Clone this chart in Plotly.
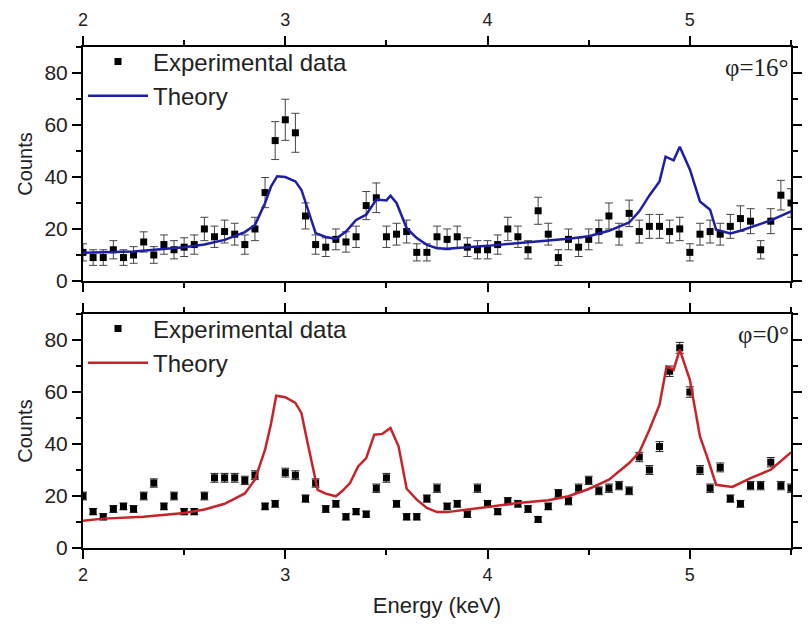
import plotly.graph_objects as go

energy = [2.00, 2.05, 2.10, 2.15, 2.20, 2.25, 2.30, 2.35, 2.40, 2.45, 2.50, 2.55, 2.60, 2.65, 2.70, 2.75,
          2.80, 2.85, 2.90, 2.95, 3.00, 3.05, 3.10, 3.15, 3.20, 3.25, 3.30, 3.35, 3.40, 3.45, 3.50, 3.55,
          3.60, 3.65, 3.70, 3.75, 3.80, 3.85, 3.90, 3.95, 4.00, 4.05, 4.10, 4.15, 4.20, 4.25, 4.30, 4.35,
          4.40, 4.45, 4.50, 4.55, 4.60, 4.65, 4.70, 4.75, 4.80, 4.85, 4.90, 4.95, 5.00, 5.05, 5.10, 5.15,
          5.20, 5.25, 5.30, 5.35, 5.40, 5.45, 5.50]

# phi = 16 deg panel
counts_16 = [11, 9, 9, 12, 9, 10, 15, 10, 14, 12, 13, 14, 20, 17, 19, 18, 14, 20, 34, 54, 62, 57,
             25, 14, 13, 16, 15, 17, 29, 32, 17, 18, 19, 11, 11, 17, 16, 17, 13, 12, 12, 14, 20, 17, 12, 27,
             18, 9, 16, 13, 16, 19, 25, 18, 26, 19, 21, 21, 19, 20, 11, 18, 19, 18, 21, 24, 23, 12, 23, 33, 30]
err_16 = [3.3, 3.0, 3.0, 3.5, 3.0, 3.2, 3.9, 3.2, 3.7, 3.5, 3.6, 3.7, 4.5, 4.1, 4.4, 4.2, 3.7, 4.5, 5.8, 7.3, 7.9, 7.5,
          5.0, 3.7, 3.6, 4.0, 3.9, 4.1, 5.4, 5.7, 4.1, 4.2, 4.4, 3.3, 3.3, 4.1, 4.0, 4.1, 3.6, 3.5, 3.5, 3.7, 4.5, 4.1, 3.5, 5.2,
          4.2, 3.0, 4.0, 3.6, 4.0, 4.4, 5.0, 4.2, 5.1, 4.4, 4.6, 4.6, 4.4, 4.5, 3.3, 4.2, 4.4, 4.2, 4.6, 4.9, 4.8, 3.5, 4.8, 5.7, 5.5]

theory_16_x = [2.00, 2.25, 2.50, 2.60, 2.70, 2.80, 2.85, 2.90, 2.93, 2.96, 3.00, 3.05, 3.08, 3.10, 3.15, 3.20,
               3.25, 3.30, 3.35, 3.40, 3.45, 3.50, 3.52, 3.55, 3.60, 3.65, 3.70, 3.75, 3.80, 3.90, 4.00, 4.30,
               4.40, 4.50, 4.60, 4.70, 4.75, 4.80, 4.85, 4.88, 4.92, 4.95, 5.00, 5.05, 5.10, 5.13, 5.20, 5.25,
               5.30, 5.40, 5.50]
theory_16_y = [10.9, 11.3, 13.0, 14.0, 15.8, 18.8, 21.5, 30.0, 36.4, 40.3, 40.0, 38.3, 35.0, 30.0, 18.4, 16.9,
               16.2, 19.0, 23.5, 25.5, 31.3, 31.0, 32.8, 30.0, 20.3, 16.5, 13.9, 12.6, 12.4, 13.0, 13.5, 15.6,
               16.2, 17.2, 19.3, 22.5, 26.8, 32.9, 38.3, 47.8, 46.4, 51.6, 42.9, 30.6, 27.4, 19.7, 18.3, 19.3,
               20.7, 23.3, 26.8]

# phi = 0 deg panel
counts_0 = [20, 14, 12, 15, 16, 15, 20, 25, 16, 20, 14, 14, 20, 27, 27, 27, 26, 28, 16, 17, 29, 28,
            19, 25, 15, 17, 12, 14, 13, 23, 27, 17, 12, 12, 19, 23, 16, 17, 13, 23, 17, 14, 18, 17, 15, 11,
            16, 21, 18, 23, 26, 22, 23, 24, 22, 35, 30, 39, 68, 77, 60, 30, 23, 31, 19, 17, 24, 24, 33, 24, 23]
err_0 = [1.5, 1.2, 1.2, 1.3, 1.3, 1.3, 1.5, 1.6, 1.3, 1.5, 1.2, 1.2, 1.5, 1.7, 1.7, 1.7, 1.6, 1.7, 1.3, 1.3, 1.7, 1.7,
         1.4, 1.6, 1.3, 1.3, 1.2, 1.2, 1.2, 1.6, 1.7, 1.3, 1.2, 1.2, 1.4, 1.6, 1.3, 1.3, 1.2, 1.6, 1.3, 1.2, 1.4, 1.3, 1.3, 1.1,
         1.3, 1.5, 1.4, 1.6, 1.6, 1.5, 1.6, 1.6, 1.5, 1.8, 1.7, 1.9, 2.0, 2.1, 2.0, 1.7, 1.6, 1.7, 1.4, 1.3, 1.6, 1.6, 1.8, 1.6, 1.6]

theory_0_x = [2.00, 2.10, 2.30, 2.50, 2.60, 2.70, 2.80, 2.85, 2.90, 2.93, 2.955, 3.00, 3.05, 3.08, 3.10, 3.13,
              3.16, 3.20, 3.25, 3.28, 3.32, 3.36, 3.40, 3.44, 3.48, 3.52, 3.56, 3.60, 3.65, 3.70, 3.75, 3.80,
              3.90, 4.00, 4.15, 4.30, 4.40, 4.50, 4.60, 4.70, 4.75, 4.80, 4.85, 4.885, 4.92, 4.95, 5.00, 5.05,
              5.09, 5.13, 5.21, 5.25, 5.30, 5.40, 5.50]
theory_0_y = [10.5, 11.3, 12.0, 13.5, 14.8, 17.0, 21.0, 26.3, 37.8, 48.0, 58.6, 58.0, 55.8, 51.9, 44.2, 32.7,
              22.4, 20.9, 19.9, 21.8, 25.0, 31.4, 34.6, 43.6, 43.9, 46.2, 39.1, 22.8, 18.6, 15.4, 13.8, 13.8,
              14.7, 15.8, 17.3, 18.4, 19.9, 22.7, 26.3, 32.7, 36.8, 45.5, 55.1, 69.8, 68.6, 76.3, 64.7, 42.9,
              34.0, 24.3, 23.5, 25.0, 26.9, 30.1, 36.8]

x_ticks = [2, 3, 4, 5]
y_ticks = [0, 20, 40, 60, 80]
panel_labels = ["φ=16°", "φ=0°"]
legend_names = ["Experimental data", "Theory"]

BLUE = "#1e1ea6"
RED = "#c8232a"
SANS = "Liberation Sans, Arial, sans-serif"
SERIF = "Liberation Serif, Times New Roman, serif"

fig = go.Figure()

fig.add_trace(go.Scatter(
    x=energy, y=counts_16, mode="markers", name=legend_names[0],
    marker=dict(symbol="square", size=7, color="black"),
    error_y=dict(type="data", array=err_16, color="#444444", thickness=1, width=4),
    xaxis="x", yaxis="y", legend="legend"))
fig.add_trace(go.Scatter(
    x=theory_16_x, y=theory_16_y, mode="lines", name=legend_names[1],
    line=dict(color=BLUE, width=2.5), xaxis="x", yaxis="y", legend="legend"))

fig.add_trace(go.Scatter(
    x=energy, y=counts_0, mode="markers", name=legend_names[0],
    marker=dict(symbol="square", size=7, color="black"),
    error_y=dict(type="data", array=err_0, color="#222222", thickness=1, width=4),
    xaxis="x2", yaxis="y2", legend="legend2"))
fig.add_trace(go.Scatter(
    x=theory_0_x, y=theory_0_y, mode="lines", name=legend_names[1],
    line=dict(color=RED, width=2.5), xaxis="x2", yaxis="y2", legend="legend2"))

common_x = dict(range=[2, 5.5], tickvals=x_ticks, ticks="outside", ticklen=9, tickwidth=1.5,
                tickcolor="black", showline=True, linewidth=2, linecolor="black", mirror="ticks",
                showgrid=False, zeroline=False,
                minor=dict(ticks="outside", dtick=0.5, ticklen=5, tickwidth=1.5, tickcolor="black"),
                tickfont=dict(family=SANS, size=18, color="#222"))
common_y = dict(range=[0, 90], tickvals=y_ticks, ticks="outside", ticklen=9, tickwidth=1.5,
                tickcolor="black", showline=True, linewidth=2, linecolor="black", mirror="ticks",
                showgrid=False, zeroline=False,
                minor=dict(ticks="outside", dtick=10, ticklen=5, tickwidth=1.5, tickcolor="black"),
                tickfont=dict(family=SANS, size=21, color="#222"),
                title=dict(text="Counts", font=dict(family=SANS, size=20, color="#222"), standoff=6))

fig.update_layout(
    width=809, height=626,
    margin=dict(l=83, r=7, t=47, b=78),
    paper_bgcolor="white", plot_bgcolor="white",
    xaxis=dict(common_x, domain=[0, 1], anchor="y", side="top", ticklabelstandoff=3),
    yaxis=dict(common_y, domain=[0.533, 1], anchor="x"),
    xaxis2=dict(common_x, domain=[0, 1], anchor="y2", side="bottom",
                title=dict(text="Energy (keV)", font=dict(family=SANS, size=22, color="#222"), standoff=14)),
    yaxis2=dict(common_y, domain=[0, 0.467], anchor="x2"),
    legend=dict(x=0.0, y=1.015, xanchor="left", yanchor="top", bgcolor="rgba(0,0,0,0)",
                font=dict(family=SANS, size=24, color="#222"), itemwidth=60, tracegroupgap=0),
    legend2=dict(x=0.0, y=0.482, xanchor="left", yanchor="top", bgcolor="rgba(0,0,0,0)",
                 font=dict(family=SANS, size=24, color="#222"), itemwidth=60, tracegroupgap=0),
    showlegend=True,
)

fig.add_annotation(text=panel_labels[0], xref="paper", yref="paper", x=1.0, y=0.99,
                   xanchor="right", yanchor="top", showarrow=False,
                   font=dict(family=SERIF, size=25, color="#222"))
fig.add_annotation(text=panel_labels[1], xref="paper", yref="paper", x=1.0, y=0.457,
                   xanchor="right", yanchor="top", showarrow=False,
                   font=dict(family=SERIF, size=25, color="#222"))

fig.write_html("out.html")
